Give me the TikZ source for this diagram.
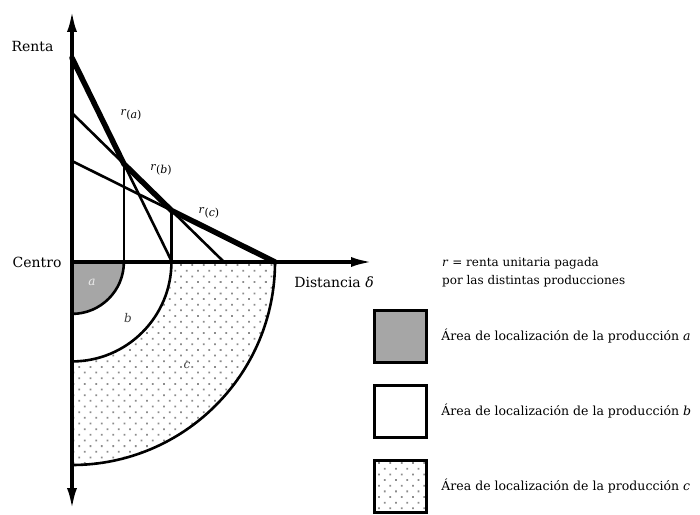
\documentclass[tikz,border=0pt]{standalone}
\usepackage{fontspec}
\setmainfont{DejaVu Serif}
\usetikzlibrary{positioning, arrows.meta, calc, patterns.meta}

\begin{document}
\begin{tikzpicture}[
		x=1pt, y=1pt,
		>={Latex[length=22pt, width=10pt]},
		axis/.style={line width=3.6pt},
		rentline/.style={line width=2.6pt},
		envelope/.style={line width=5.5pt, line join=round, line cap=round},
		zoneA/.style={fill=gray!70},
		zoneC/.style={pattern={Dots[radius=1.25pt, distance=8pt, angle=45]}, pattern color=black!45},
		legbox/.style={draw, line width=2.8pt, minimum size=52pt, inner sep=0pt},
		axislabel/.style={font=\fontsize{14}{16}\selectfont},
		rlabel/.style={font=\fontsize{11}{13}\selectfont, inner sep=1pt},
		zonelabel/.style={font=\fontsize{12}{14}\selectfont\itshape, text=black!75},
		leglabel/.style={font=\fontsize{12.5}{14}\selectfont}
		]
		\useasboundingbox (-72,-252) rectangle (628,262);
		
		% --- Rent lines (one per production) ---
		\coordinate (O) at (0,0);
		\coordinate (ra0) at (0,204);
		\coordinate (ra1) at (100,0);
		\coordinate (rb0) at (0,149);
		\coordinate (rb1) at (152,0);
		\coordinate (rc0) at (0,101);
		\coordinate (rc1) at (203,0);
		\coordinate (ab) at (intersection of ra0--ra1 and rb0--rb1);
		\coordinate (bc) at (intersection of rb0--rb1 and rc0--rc1);
		
		% --- Location rings below the distance axis ---
		\fill[white] (O) -- (rc1) arc[start angle=0, end angle=-90, radius=203] -- cycle;
		\fill[zoneC] (O) -- (rc1) arc[start angle=0, end angle=-90, radius=203] -- cycle;
		\fill[white] let \p1=(bc) in (O) -- (\x1,0) arc[start angle=0, end angle=-90, radius=\x1] -- cycle;
		\fill[zoneA] let \p1=(ab) in (O) -- (\x1,0) arc[start angle=0, end angle=-90, radius=\x1] -- cycle;
		\draw[rentline] let \p1=(ab) in (\x1,0) arc[start angle=0, end angle=-90, radius=\x1];
		\draw[rentline] let \p1=(bc) in (\x1,0) arc[start angle=0, end angle=-90, radius=\x1];
		\draw[rentline] (rc1) arc[start angle=0, end angle=-90, radius=203];
		
		% drop lines from the intersections
		\draw[rentline] (ab) -- (ab |- O);
		\draw[rentline] (bc) -- (bc |- O);
		
		\draw[rentline] (ra0) -- (ra1);
		\draw[rentline] (rb0) -- (rb1);
		\draw[rentline] (rc0) -- (rc1);
		
		% upper envelope of the rents
		\draw[envelope] (ra0) -- (ab) -- (bc) -- (rc1);
		
		% --- Axes ---
		\coordinate (ytop) at (0,252);
		\coordinate (ybot) at (0,-248);
		\coordinate (xtip) at (301,0);
		\draw[axis, ->] (O) -- (xtip);
		\draw[axis, <->] (ybot) -- (ytop);
		
		\node[axislabel, anchor=east] (renta) at (-15,216) {Renta};
		\node[axislabel, anchor=east] (centro) at (-7,0) {Centro};
		\node[axislabel] (dist) at (262,-20) {Distancia \textit{δ}};
		
		\node[rlabel] (la) at (59,147) {\textit{r}\raisebox{-3pt}{(\textit{a})}};
		\node[rlabel] (lb) at (89,92) {\textit{r}\raisebox{-3pt}{(\textit{b})}};
		\node[rlabel] (lc) at (137,49) {\textit{r}\raisebox{-3pt}{(\textit{c})}};
		
		\node[zonelabel, text=gray!15] (za) at (20,-20) {a};
		\node[zonelabel] (zb) at (56,-56) {b};
		\node[zonelabel] (zc) at (115,-103) {c};
		
		% --- Legend ---
		\node[font=\fontsize{12}{18}\selectfont, align=left, anchor=base west, inner sep=0pt] (legtitle) at (370,-22)
		{\textit{r} = renta unitaria pagada\\por las distintas producciones};
		
		\node[legbox, zoneA] (boxA) at (328.5,-74.5) {};
		\node[legbox, below=20pt of boxA] (boxB) {};
		\node[legbox, zoneC, below=20pt of boxB] (boxC) {};
		
		\node[leglabel, right=10pt of boxA] (legA) {Área de localización de la producción \textit{a}};
		\node[leglabel, right=10pt of boxB] (legB) {Área de localización de la producción \textit{b}};
		\node[leglabel, right=10pt of boxC] (legC) {Área de localización de la producción \textit{c}};
		
	\end{tikzpicture}
\end{document}
